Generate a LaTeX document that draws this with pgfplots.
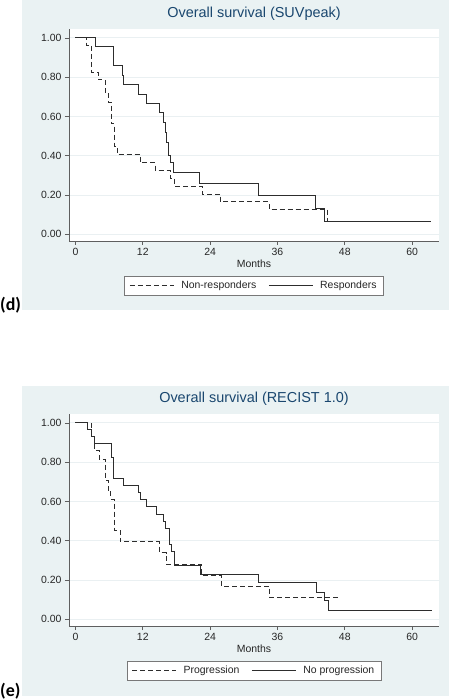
\documentclass[border=0pt]{standalone}
\usepackage{pgfplots}
\pgfplotsset{compat=1.18}
\usepackage{fontspec}
\setmainfont{Liberation Sans}
\newfontfamily\calibri{Carlito}
\definecolor{bgc}{RGB}{234,242,243}
\definecolor{ttl}{RGB}{26,71,111}
\definecolor{gridc}{RGB}{234,240,242}
\definecolor{axc}{RGB}{95,95,95}
\definecolor{crv}{RGB}{45,45,45}
\definecolor{legc}{RGB}{120,120,120}

\pgfplotsset{kmaxis/.style={
  scale only axis, width=370bp, height=212bp,
  xmin=-1.15, xmax=64.8, ymin=-0.034, ymax=1.045,
  axis x line*=bottom, axis y line*=left,
  axis line style={axc, line width=0.7bp},
  xtick={0,12,24,36,48,60}, ytick={0,0.2,0.4,0.6,0.8,1},
  /pgf/number format/assume math mode=true,
  yticklabel style={/pgf/number format/fixed, /pgf/number format/fixed zerofill, /pgf/number format/precision=2},
  tick align=outside, major tick length=4bp,
  tick style={axc, line width=0.6bp},
  ymajorgrids, grid style={gridc, line width=0.9bp},
  ticklabel style={font=\fontsize{10.5}{12}\selectfont, text=black!85},
  xlabel={Months},
  xlabel style={font=\fontsize{10.5}{12}\selectfont, text=black!85, at={(axis description cs:0.5,0)}, anchor=center, yshift=-23bp},
  axis background/.style={fill=white},
  title style={font=\fontsize{14.5}{17}\selectfont, text=ttl, at={(axis description cs:0.5,1)}, anchor=center, yshift=9.5bp},
  legend columns=2,
  legend style={at={(axis description cs:0.5,-0.165)}, anchor=north, draw=legc, fill=white,
    font=\fontsize{10.5}{12}\selectfont, text=black!85, inner xsep=5bp, inner ysep=3bp,
    /tikz/every odd column/.append style={column sep=5bp},
    /tikz/every even column/.append style={column sep=10bp}},
  legend image code/.code={\draw[#1] (0bp,0bp) -- (44bp,0bp);},
  dashcurve/.style={crv, line width=0.9bp, dash pattern=on 5bp off 3bp, const plot},
  solidcurve/.style={crv, line width=0.9bp, const plot},
}}

\begin{document}
\begin{tikzpicture}
\useasboundingbox (0,0) rectangle (450bp,700bp);
\fill[white] (0,0) rectangle (450bp,700bp);
\fill[bgc] (22bp,390bp) rectangle (449bp,700bp);
\fill[bgc] (22bp,4bp) rectangle (449bp,314bp);

\begin{axis}[kmaxis, at={(69bp,459bp)}, anchor=south west, title={Overall survival (SUVpeak)}]
\addplot[dashcurve] coordinates {
(0,1) (2.0,0.963) (2.85,0.825) (4.1,0.786) (5.3,0.72) (5.8,0.671) (6.4,0.562)
(7.0,0.445) (7.4,0.406) (11.6,0.364) (14.3,0.324) (16.9,0.285) (17.6,0.246)
(22.6,0.204) (25.9,0.165) (34.5,0.125) (44.9,0.064) (46.9,0.064)};
\addlegendentry{Non-responders}
\addplot[solidcurve] coordinates {
(0,1) (3.6,0.954) (6.8,0.860) (8.3,0.81) (8.5,0.762) (11.3,0.713) (12.6,0.668)
(15.0,0.618) (15.6,0.570) (16.0,0.519) (16.3,0.467) (16.6,0.40) (16.9,0.364)
(17.5,0.314) (22.1,0.261) (32.7,0.197) (42.7,0.130) (44.3,0.067) (63.4,0.067)};
\addlegendentry{Responders}
\end{axis}

\begin{axis}[kmaxis, at={(69bp,74bp)}, anchor=south west, title={Overall survival (RECIST 1.0)}]
\addplot[dashcurve] coordinates {
(0,1) (2.8,0.93) (3.3,0.861) (4.2,0.814) (5.4,0.709) (5.8,0.658) (6.3,0.610)
(7.0,0.453) (8.0,0.394) (15.0,0.339) (16.2,0.281) (22.4,0.224) (26.0,0.169)
(34.6,0.113) (47.0,0.113)};
\addlegendentry{Progression}
\addplot[solidcurve] coordinates {
(0,1) (2.1,0.966) (2.85,0.932) (3.3,0.895) (6.4,0.826) (6.85,0.716) (8.5,0.682)
(11.2,0.645) (11.5,0.608) (12.7,0.572) (14.4,0.536) (15.6,0.500) (16.1,0.464)
(16.7,0.38) (17.1,0.346) (17.6,0.272) (22.3,0.230) (32.7,0.186) (42.9,0.139)
(44.4,0.094) (45.1,0.047) (63.6,0.047)};
\addlegendentry{No progression}
\end{axis}

\node[font=\calibri\bfseries\fontsize{18}{21}\selectfont, anchor=west, inner sep=0pt] at (0bp,395bp) {(d)};
\node[font=\calibri\bfseries\fontsize{18}{21}\selectfont, anchor=west, inner sep=0pt] at (0bp,9bp) {(e)};
\end{tikzpicture}
\end{document}
